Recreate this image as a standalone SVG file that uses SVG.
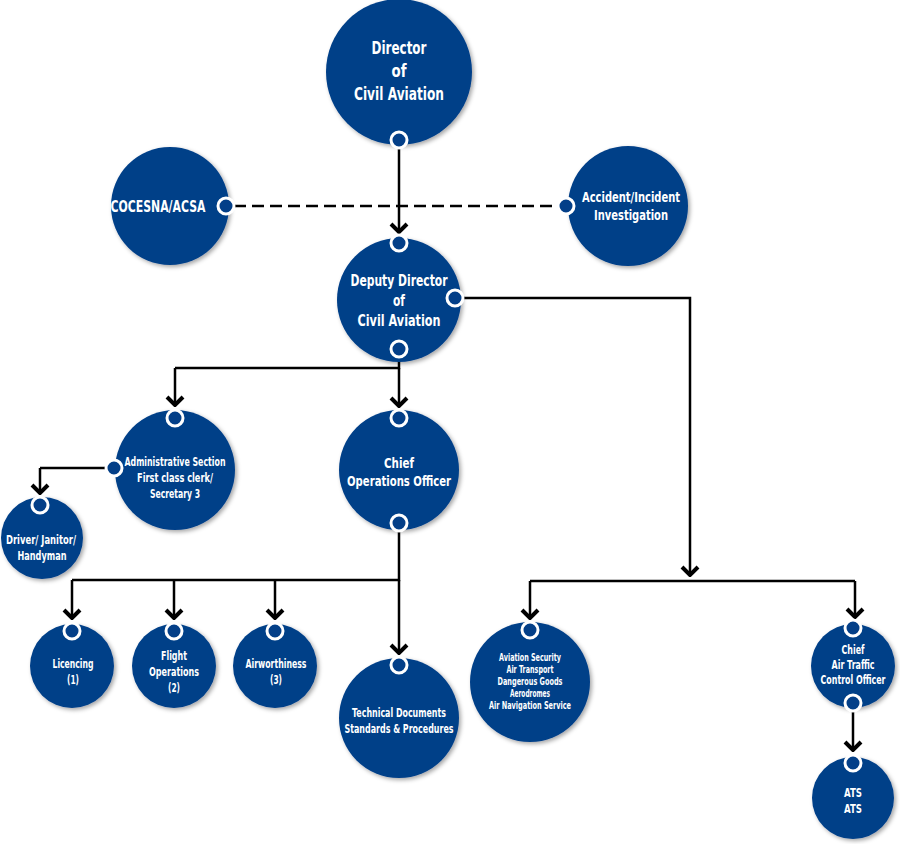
<svg xmlns="http://www.w3.org/2000/svg" width="900" height="844" viewBox="0 0 900 844">
<defs>
<filter id="sh" x="-20%" y="-20%" width="140%" height="140%">
<feDropShadow dx="2" dy="2" stdDeviation="2" flood-color="#000" flood-opacity="0.35"/>
</filter>
<marker id="arr" markerUnits="userSpaceOnUse" viewBox="-12 -11 14 22" markerWidth="14" markerHeight="22" refX="0" refY="0" orient="auto">
<path d="M-8,-8 L0,0 L-8,8" fill="none" stroke="#000" stroke-width="4"/>
</marker>
</defs>
<style>
.n{fill:#033f88;filter:url(#sh)}
.p{fill:#033f88;stroke:#fff;stroke-width:3}
.t{fill:#fff;font-family:"DejaVu Sans","Liberation Sans",sans-serif;font-weight:bold;text-anchor:middle}
.c{fill:none;stroke:#000;stroke-width:2.5}
.a{marker-end:url(#arr)}
</style>
<rect width="900" height="844" fill="#fff"/>
<g id="connectors">
<path class="c a" d="M399,148 V232"/>
<path class="c" d="M234,206 H558" stroke-dasharray="12,6"/>
<path class="c a" d="M463,298 H690 V575"/>
<path class="c" d="M530,581 H855"/>
<path class="c a" d="M530,581 V618"/>
<path class="c a" d="M855,581 V617"/>
<path class="c" d="M399,357 V368 H175"/>
<path class="c a" d="M175,368 V405"/>
<path class="c a" d="M399,368 V406"/>
<path class="c" d="M106,468 H40"/>
<path class="c a" d="M40,468 V493"/>
<path class="c" d="M399,531 V580 H72"/>
<path class="c a" d="M72,580 V618"/>
<path class="c a" d="M174,580 V618"/>
<path class="c a" d="M275,580 V618"/>
<path class="c a" d="M399,580 V653"/>
<path class="c a" d="M853,711 V750"/>
</g>
<g id="director">
<circle class="n" cx="399" cy="72" r="73"/>
<text class="t" x="399" y="54" font-size="18" textLength="55" lengthAdjust="spacingAndGlyphs">Director</text>
<text class="t" x="399" y="77" font-size="18" textLength="15" lengthAdjust="spacingAndGlyphs">of</text>
<text class="t" x="399" y="100" font-size="18" textLength="90" lengthAdjust="spacingAndGlyphs">Civil Aviation</text>
<circle class="p" cx="399" cy="140" r="8"/>
</g>
<g id="cocesna">
<circle class="n" cx="170" cy="206" r="59"/>
<text class="t" x="158" y="212" font-size="15" textLength="95" lengthAdjust="spacingAndGlyphs">COCESNA/ACSA</text>
<circle class="p" cx="226" cy="206" r="8"/>
</g>
<g id="accident">
<circle class="n" cx="628" cy="206" r="60"/>
<text class="t" x="631" y="202" font-size="14" textLength="98" lengthAdjust="spacingAndGlyphs">Accident/Incident</text>
<text class="t" x="631" y="220" font-size="14" textLength="74" lengthAdjust="spacingAndGlyphs">Investigation</text>
<circle class="p" cx="566" cy="206" r="8"/>
</g>
<g id="deputy">
<circle class="n" cx="399" cy="300" r="62"/>
<text class="t" x="399" y="286" font-size="15" textLength="97" lengthAdjust="spacingAndGlyphs">Deputy Director</text>
<text class="t" x="399" y="306" font-size="15" textLength="12" lengthAdjust="spacingAndGlyphs">of</text>
<text class="t" x="399" y="326" font-size="15" textLength="83" lengthAdjust="spacingAndGlyphs">Civil Aviation</text>
<circle class="p" cx="399" cy="243" r="8"/>
<circle class="p" cx="455" cy="298" r="8"/>
<circle class="p" cx="399" cy="349" r="8"/>
</g>
<g id="admin">
<circle class="n" cx="175" cy="470" r="60"/>
<text class="t" x="175" y="466" font-size="12" textLength="101" lengthAdjust="spacingAndGlyphs">Administrative Section</text>
<text class="t" x="175" y="482" font-size="12" textLength="76" lengthAdjust="spacingAndGlyphs">First class clerk/</text>
<text class="t" x="175" y="498" font-size="12" textLength="50" lengthAdjust="spacingAndGlyphs">Secretary 3</text>
<circle class="p" cx="175" cy="418" r="8"/>
<circle class="p" cx="114" cy="468" r="8"/>
</g>
<g id="driver">
<circle class="n" cx="42" cy="538" r="41"/>
<text class="t" x="41" y="544" font-size="12" textLength="70" lengthAdjust="spacingAndGlyphs">Driver/ Janitor/</text>
<text class="t" x="42" y="560" font-size="12" textLength="49" lengthAdjust="spacingAndGlyphs">Handyman</text>
<circle class="p" cx="40" cy="505" r="8"/>
</g>
<g id="chief-ops">
<circle class="n" cx="399" cy="470" r="60"/>
<text class="t" x="399" y="468" font-size="14" textLength="30" lengthAdjust="spacingAndGlyphs">Chief</text>
<text class="t" x="399" y="486" font-size="14" textLength="104" lengthAdjust="spacingAndGlyphs">Operations Officer</text>
<circle class="p" cx="399" cy="418" r="8"/>
<circle class="p" cx="399" cy="523" r="8"/>
</g>
<g id="licencing">
<circle class="n" cx="72" cy="666" r="42"/>
<text class="t" x="73" y="668" font-size="12" textLength="41" lengthAdjust="spacingAndGlyphs">Licencing</text>
<text class="t" x="73" y="684" font-size="12" textLength="12" lengthAdjust="spacingAndGlyphs">(1)</text>
<circle class="p" cx="72" cy="631" r="8"/>
</g>
<g id="flight-ops">
<circle class="n" cx="174" cy="666" r="42"/>
<text class="t" x="174" y="660" font-size="12" textLength="26" lengthAdjust="spacingAndGlyphs">Flight</text>
<text class="t" x="174" y="676" font-size="12" textLength="50" lengthAdjust="spacingAndGlyphs">Operations</text>
<text class="t" x="174" y="692" font-size="12" textLength="12" lengthAdjust="spacingAndGlyphs">(2)</text>
<circle class="p" cx="174" cy="631" r="8"/>
</g>
<g id="airworthiness">
<circle class="n" cx="275" cy="666" r="42"/>
<text class="t" x="276" y="668" font-size="12" textLength="61" lengthAdjust="spacingAndGlyphs">Airworthiness</text>
<text class="t" x="276" y="684" font-size="12" textLength="12" lengthAdjust="spacingAndGlyphs">(3)</text>
<circle class="p" cx="275" cy="631" r="8"/>
</g>
<g id="tech-docs">
<circle class="n" cx="399" cy="718" r="60"/>
<text class="t" x="399" y="717" font-size="12" textLength="94" lengthAdjust="spacingAndGlyphs">Technical Documents</text>
<text class="t" x="399" y="733" font-size="12" textLength="109" lengthAdjust="spacingAndGlyphs">Standards &amp; Procedures</text>
<circle class="p" cx="399" cy="665" r="8"/>
</g>
<g id="avsec">
<circle class="n" cx="530" cy="682" r="60"/>
<text class="t" x="530" y="661" font-size="10" textLength="62" lengthAdjust="spacingAndGlyphs">Aviation Security</text>
<text class="t" x="530" y="673" font-size="10" textLength="47" lengthAdjust="spacingAndGlyphs">Air Transport</text>
<text class="t" x="530" y="685" font-size="10" textLength="65" lengthAdjust="spacingAndGlyphs">Dangerous Goods</text>
<text class="t" x="530" y="697" font-size="10" textLength="40" lengthAdjust="spacingAndGlyphs">Aerodromes</text>
<text class="t" x="530" y="709" font-size="10" textLength="82" lengthAdjust="spacingAndGlyphs">Air Navigation Service</text>
<circle class="p" cx="530" cy="630" r="8"/>
</g>
<g id="chief-atc">
<circle class="n" cx="853" cy="666" r="42"/>
<text class="t" x="853" y="654" font-size="12" textLength="23" lengthAdjust="spacingAndGlyphs">Chief</text>
<text class="t" x="853" y="669" font-size="12" textLength="43" lengthAdjust="spacingAndGlyphs">Air Traffic</text>
<text class="t" x="853" y="684" font-size="12" textLength="65" lengthAdjust="spacingAndGlyphs">Control Officer</text>
<circle class="p" cx="853" cy="628" r="8"/>
<circle class="p" cx="853" cy="703" r="8"/>
</g>
<g id="ats">
<circle class="n" cx="853" cy="798" r="41"/>
<text class="t" x="853" y="797" font-size="12" textLength="18" lengthAdjust="spacingAndGlyphs">ATS</text>
<text class="t" x="853" y="813" font-size="12" textLength="18" lengthAdjust="spacingAndGlyphs">ATS</text>
<circle class="p" cx="853" cy="763" r="8"/>
</g>
</svg>
